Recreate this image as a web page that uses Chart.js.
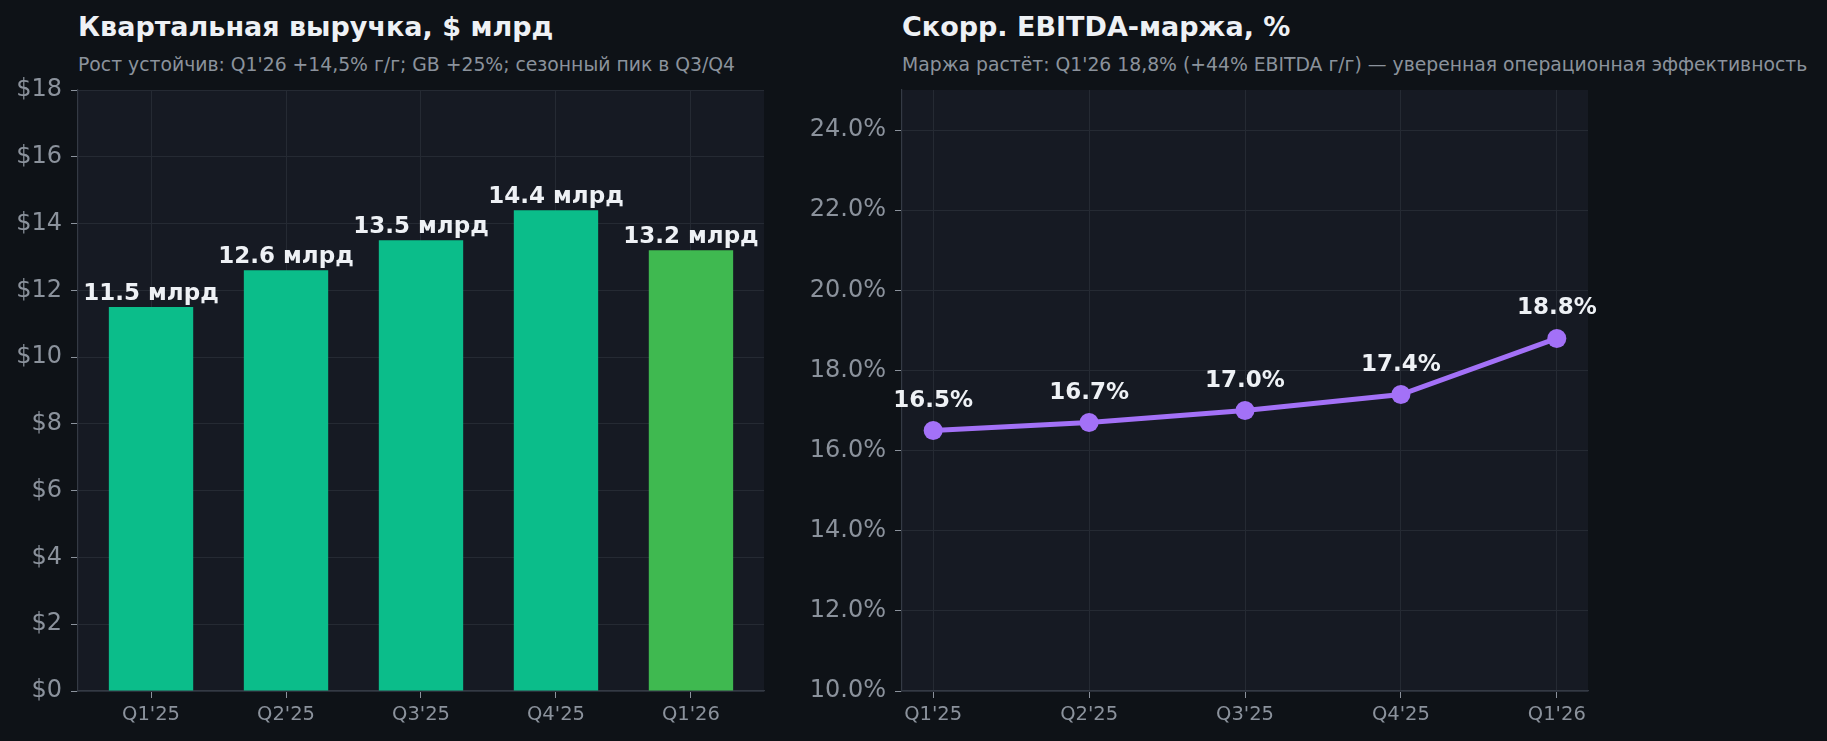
<!DOCTYPE html>
<html>
<head>
<meta charset="utf-8">
<script src="https://cdn.jsdelivr.net/npm/chart.js@4.4.1/dist/chart.umd.min.js"></script>
<style>
  html, body { margin: 0; padding: 0; background: #0e1217; }
  body { width: 1827px; height: 741px; position: relative; overflow: hidden; font-family: 'DejaVu Sans', sans-serif; }
  canvas { position: absolute; top: 0; }
  .title { position: absolute; font-weight: bold; font-size: 27px; line-height: 1; color: #eef1f5; white-space: nowrap; }
  .sub { position: absolute; font-size: 18.8px; line-height: 1; color: #8b929c; white-space: nowrap; }
</style>
</head>
<body>
<div class="title" style="left:78px; top:13px;">Квартальная выручка, $ млрд</div>
<div class="sub" style="left:78px; top:56px;">Рост устойчив: Q1'26 +14,5% г/г; GB +25%; сезонный пик в Q3/Q4</div>
<div class="title" style="left:902px; top:13px;">Скорр. EBITDA-маржа, %</div>
<div class="sub" style="left:902px; top:56px;">Маржа растёт: Q1'26 18,8% (+44% EBITDA г/г) — уверенная операционная эффективность</div>
<canvas id="rev" width="790" height="741" style="left:0px;"></canvas>
<canvas id="mar" width="1037" height="741" style="left:790px;"></canvas>
<script>
// ---- data ----
const quarters = ["Q1'25", "Q2'25", "Q3'25", "Q4'25", "Q1'26"];
const revenue = [11.5, 12.6, 13.5, 14.4, 13.2];          // $ млрд
const margin = [16.5, 16.7, 17.0, 17.4, 18.8];           // %
const revenueTicks = [0, 2, 4, 6, 8, 10, 12, 14, 16, 18];
const marginTicks = [10, 12, 14, 16, 18, 20, 22, 24];

// ---- styles ----
const FONT = "'DejaVu Sans', sans-serif";
const GRID = '#252a33';
const SPINE = '#343a44';
const TICKC = '#8b929c';
const PLOTBG = '#161a23';
const WHITE = '#eef1f5';
const barColors = ['#0bbd8a', '#0bbd8a', '#0bbd8a', '#0bbd8a', '#3fb950'];
const lineColor = '#a371f7';

const plotBg = {
  id: 'plotBg',
  beforeDraw(chart) {
    const a = chart.chartArea, c = chart.ctx;
    c.save(); c.fillStyle = PLOTBG; c.fillRect(a.left, a.top, a.right - a.left, a.bottom - a.top); c.restore();
  }
};

function valueLabels(fmt, offset) {
  return {
    id: 'valueLabels',
    afterDatasetsDraw(chart) {
      const c = chart.ctx;
      const meta = chart.getDatasetMeta(0);
      const vals = chart.data.datasets[0].data;
      c.save();
      c.font = "bold 23px " + FONT;
      c.fillStyle = WHITE;
      c.textAlign = 'center';
      c.textBaseline = 'alphabetic';
      meta.data.forEach((el, i) => {
        c.fillText(fmt(vals[i].y), el.x, el.y - offset);
      });
      c.restore();
    }
  };
}

function xAxis(min, max) {
  return {
    type: 'linear', min: min, max: max, offset: false,
    afterBuildTicks(s) { s.ticks = quarters.map((q, i) => ({ value: i })); },
    afterFit(s) { s.height = 50; },
    grid: { offset: false, color: GRID, lineWidth: 1, tickLength: 7, tickColor: TICKC, drawTicks: true },
    border: { display: true, color: SPINE, width: 1.2 },
    ticks: { autoSkip: false, maxRotation: 0, padding: 5, color: TICKC, font: { family: FONT, size: 19.5 },
             callback: (v) => quarters[v] }
  };
}

function yAxis(min, max, tickVals, fmt, width) {
  return {
    type: 'linear', min: min, max: max,
    afterBuildTicks(s) { s.ticks = tickVals.map(v => ({ value: v })); },
    afterFit(s) { s.width = width; },
    grid: { offset: false, color: GRID, lineWidth: 1, tickLength: 7, tickColor: TICKC, drawTicks: true },
    border: { display: true, color: SPINE, width: 1.2 },
    ticks: { padding: 9, color: TICKC, font: { family: FONT, size: 24 }, callback: fmt }
  };
}

new Chart(document.getElementById('rev'), {
  type: 'bar',
  data: {
    datasets: [{
      data: quarters.map((q, i) => ({ x: i, y: revenue[i] })),
      backgroundColor: barColors,
      borderWidth: 0,
      categoryPercentage: 0.625,
      barPercentage: 1.0
    }]
  },
  options: {
    responsive: false, animation: false, devicePixelRatio: 1,
    layout: { padding: { left: 0, top: 90, right: 26, bottom: 0 } },
    plugins: { legend: { display: false }, title: { display: false }, tooltip: { enabled: false } },
    scales: {
      x: xAxis(-0.541, 4.541),
      y: yAxis(0, 18, revenueTicks, (v) => '$' + v, 78)
    }
  },
  plugins: [plotBg, valueLabels((v) => v.toFixed(1) + ' млрд', 7)]
});

new Chart(document.getElementById('mar'), {
  type: 'line',
  data: {
    datasets: [{
      data: quarters.map((q, i) => ({ x: i, y: margin[i] })),
      borderColor: lineColor,
      backgroundColor: lineColor,
      borderWidth: 5,
      pointRadius: 9.5,
      pointBorderWidth: 0,
      pointBackgroundColor: lineColor,
      tension: 0,
      fill: false
    }]
  },
  options: {
    responsive: false, animation: false, devicePixelRatio: 1,
    layout: { padding: { left: 0, top: 90, right: 239, bottom: 0 } },
    plugins: { legend: { display: false }, title: { display: false }, tooltip: { enabled: false } },
    scales: {
      x: xAxis(-0.2, 4.2),
      y: yAxis(10, 25, marginTicks, (v) => v.toFixed(1) + '%', 112)
    }
  },
  plugins: [plotBg, valueLabels((v) => v.toFixed(1) + '%', 24)]
});
</script>
</body>
</html>
